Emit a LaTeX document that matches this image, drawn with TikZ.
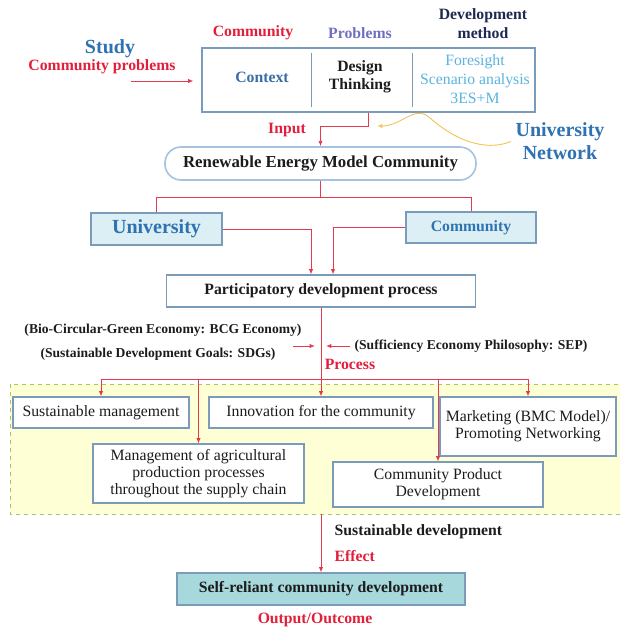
\documentclass[tikz,border=0pt]{standalone}
\usepackage{fontspec}
\setmainfont{Liberation Serif}
\usetikzlibrary{arrows.meta,calc}

\definecolor{redtxt}{RGB}{226,30,58}
\definecolor{linered}{RGB}{228,58,78}
\definecolor{boxline}{RGB}{122,156,186}
\definecolor{pillline}{RGB}{165,195,222}
\definecolor{cyanfill}{RGB}{220,239,244}
\definecolor{tealfill}{RGB}{166,216,220}
\definecolor{stagefill}{RGB}{255,255,214}
\definecolor{stageline}{RGB}{165,200,110}
\definecolor{blutxt}{RGB}{46,114,178}
\definecolor{ctxblue}{RGB}{58,108,165}
\definecolor{liteblue}{RGB}{90,180,222}
\definecolor{purptxt}{RGB}{112,112,192}
\definecolor{navytxt}{RGB}{30,40,80}
\definecolor{txtdark}{RGB}{28,28,28}
\definecolor{netgold}{RGB}{240,198,90}

\tikzset{
  flowbox/.style={draw=boxline, fill=white, line width=0.8pt, inner sep=0pt, align=center, text=txtdark},
  cyanbox/.style={flowbox, fill=cyanfill},
  pill/.style={draw=pillline, line width=1.2pt, rounded corners=12pt, inner sep=0pt, fill=white},
  conn/.style={draw=linered, line width=0.6pt},
  stagebg/.style={fill=stagefill, draw=stageline, dashed, line width=0.5pt},
  headfont/.style={font=\bfseries\fontsize{11.8}{13.5}\selectfont, align=center, text=txtdark},
  bigfont/.style={font=\bfseries\fontsize{15}{17.25}\selectfont, align=center, text=blutxt},
  notetext/.style={font=\bfseries\fontsize{10.2}{12}\selectfont, text=txtdark},
  plainfont/.style={font=\fontsize{11.8}{12.8}\selectfont, text=txtdark}
}

\begin{document}
\begin{tikzpicture}[x=0.75pt, y=-0.75pt, >={Latex[length=4pt,width=3.2pt]}]
\useasboundingbox (0,0) rectangle (620,632);
% Stage background
\draw[stagebg] (10,384) rectangle (640,514);
% Top box
\node[flowbox, minimum width=249.75pt, minimum height=48pt] (topbox) at (368.5,80) {};
\draw[boxline, line width=0.7pt] (311,53) -- (311,107);
\draw[boxline, line width=0.7pt] (412,53) -- (412,107);
\node[headfont, text=ctxblue] (context) at (262,77) {Context};
\node[headfont] (design) at (360,77) {Design\\Thinking};
\node[font=\fontsize{11.8}{14.25}\selectfont, align=center, text=liteblue] (method) at (475,79) {Foresight\\Scenario analysis\\3ES+M};
% Column heads
\node[headfont, text=redtxt] (hcomm) at (253,33) {Community};
\node[headfont, text=purptxt] (hprob) at (360,33) {Problems};
\node[font=\bfseries\fontsize{11.8}{14.25}\selectfont, align=center, text=navytxt] (hmeth) at (483,23.5) {Development\\method};
% Study
\node[bigfont] (study) at (110,49) {Study};
\node[headfont, text=redtxt] (commprob) at (102,67) {Community problems};
\coordinate (probtail) at (131,81);
\draw[conn,->,shorten >=6pt] (probtail) -- (probtail -| topbox.west);
% University network
\node[bigfont] (univnet) at (560,141.5) {University\\Network};
\coordinate (netin) at (377,126);
\draw[netgold, line width=0.7pt, ->] (univnet.west) .. controls (485,152) and (455,140) .. (430,118)
  .. controls (415,104) and (402,126) .. (netin);
% Model community
\node[pill, minimum width=233.25pt, minimum height=24.75pt, font=\bfseries\fontsize{12.6}{15}\selectfont, text=txtdark] (remc) at (320.5,163.5) {Renewable Energy Model Community};
\node[headfont, text=redtxt] (input) at (287,130) {Input};
\draw[conn,->] (topbox.south) -- ++(0,14) -| (remc.north);
% University and community
\node[cyanbox, minimum width=98.25pt, minimum height=24pt, font=\bfseries\fontsize{15}{17}\selectfont, text=blutxt] (univ) at (156.5,229) {University};
\node[cyanbox, minimum width=97.5pt, minimum height=23.25pt, font=\bfseries\fontsize{11.8}{13.5}\selectfont, text=blutxt] (comm) at (471,227.5) {Community};
\draw[conn] (remc.south) -- ++(0,16.5) coordinate (split);
\draw[conn] (univ.north) |- (split) -| (comm.north);
% Participatory process
\node[flowbox, minimum width=231.75pt, minimum height=24pt, font=\bfseries\fontsize{11.8}{13.5}\selectfont] (partic) at (321,291) {Participatory development process};
\draw[conn,->] (univ.east) -| ($(partic.north)+(-10,0)$);
\draw[conn,->] (comm.west) -| ($(partic.north)+(12,0)$);
% Notes
\node[notetext] (bcg) at (163,330) {(Bio-Circular-Green Economy: BCG Economy)};
\node[notetext] (sdg) at (158,354) {(Sustainable Development Goals: SDGs)};
\node[notetext] (sep) at (471,346) {(Sufficiency Economy Philosophy: SEP)};
\coordinate (noteL) at (293,346);
\draw[conn,->,shorten >=4.5pt] (noteL) -- (noteL -| partic.south);
\draw[conn,->,shorten >=3.75pt] (sep.west) -- (sep.west -| partic.south);
\node[headfont, text=redtxt] (process) at (350,364) {Process};
% Activities
\node[flowbox, plainfont, minimum width=132pt, minimum height=23.25pt] (sm) at (101,412.5) {Sustainable management};
\node[flowbox, plainfont, minimum width=168pt, minimum height=23.25pt] (inno) at (321,412.5) {Innovation for the community};
\node[flowbox, plainfont, minimum width=132pt, minimum height=44.25pt] (mkt) at (528,426.5) {Marketing (BMC Model)/\\Promoting Networking};
\node[flowbox, plainfont, minimum width=158.25pt, minimum height=44.25pt] (agri) at (198.5,473.5) {Management of agricultural\\production processes\\throughout the supply chain};
\node[flowbox, plainfont, minimum width=157.5pt, minimum height=33.75pt] (cpd) at (438,484.5) {Community Product\\Development};
\coordinate (bus) at (321,379);
\draw[conn] (partic.south) -- (bus);
\draw[conn] (bus -| sm.north) -- (bus -| mkt.north);
\foreach \n in {sm,agri,inno,cpd,mkt}
  \draw[conn,->] (bus -| \n.north) -- (\n.north);
% Outcome
\node[flowbox, fill=tealfill, minimum width=216pt, minimum height=24pt, font=\bfseries\fontsize{11.8}{13.5}\selectfont] (selfrel) at (321,589) {Self-reliant community development};
\coordinate (stagebot) at (321,514);
\draw[conn,->] (stagebot) -- (selfrel.north);
\node[headfont, anchor=west] (sustdev) at (330,532) {Sustainable development};
\node[headfont, anchor=west, text=redtxt] (effect) at (330,556) {Effect};
\node[headfont, text=redtxt] (output) at (315,620) {Output/Outcome};
\end{tikzpicture}
\end{document}
